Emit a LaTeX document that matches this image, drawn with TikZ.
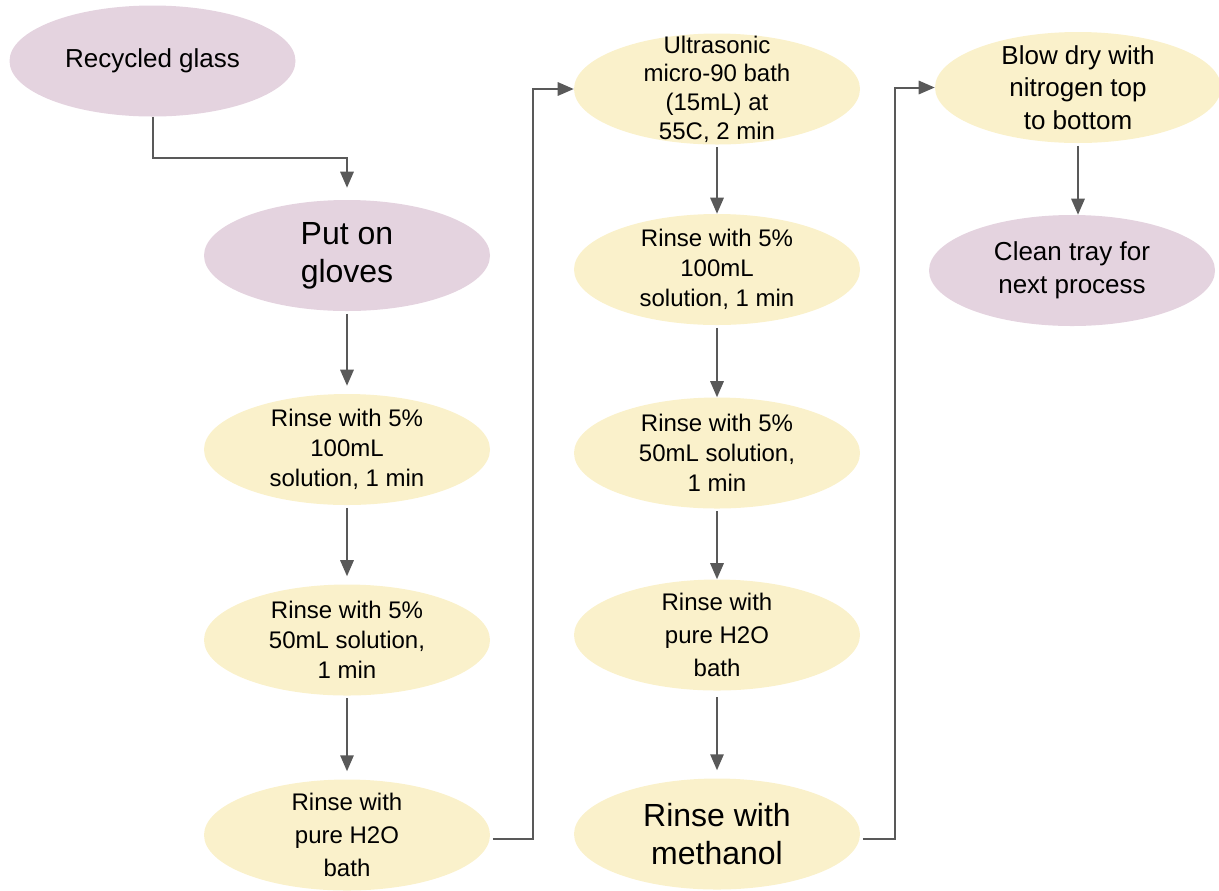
\documentclass[tikz,border=0pt]{standalone}
\usepackage{fontspec}
\setmainfont{Liberation Sans}
\usetikzlibrary{arrows.meta, shapes.geometric, calc}
\definecolor{lilac}{HTML}{E4D3DF}
\definecolor{cream}{HTML}{FAF1CB}
\definecolor{linegray}{HTML}{595959}

\begin{document}
\begin{tikzpicture}[x=0.75pt, y=-0.75pt, line join=miter,
  stage/.style={ellipse, minimum width=214.5pt, minimum height=83.25pt, inner xsep=0pt, inner ysep=-20pt, align=center, font=\fontsize{18}{22.5}\selectfont},
  widestage/.style={stage, font=\fontsize{19.5}{24.5}\selectfont},
  bigstage/.style={stage, font=\fontsize{24}{28.5}\selectfont},
  flow/.style={draw=linegray, line width=1.5pt, -{Triangle[length=12pt,width=10pt]}, shorten <=2pt}]
\useasboundingbox (0,0) rectangle (1219,890);

% first column
\node [widestage, fill=lilac] (glass) at (152.5,61) {Recycled glass};
\node [bigstage, fill=lilac] (gloves) at (347,255.5) {Put on\\gloves};
\node [stage, fill=cream] (rinseA) at (347,449.5) {Rinse with 5\%\\100mL\\solution, 1 min};
\node [stage, fill=cream] (rinseB) at (347,640) {Rinse with 5\%\\50mL solution,\\1 min};
\node [stage, fill=cream, font=\fontsize{18}{24.5}\selectfont] (bathA) at (347,835) {Rinse with\\pure H2O\\bath};

% second column
\node [stage, fill=cream, font=\fontsize{18}{21.5}\selectfont] (ultra) at (717,89) {Ultrasonic\\micro-90 bath\\(15mL) at\\55C, 2 min};
\node [stage, fill=cream] (rinseC) at (717,269.5) {Rinse with 5\%\\100mL\\solution, 1 min};
\node [stage, fill=cream] (rinseD) at (717,453) {Rinse with 5\%\\50mL solution,\\1 min};
\node [stage, fill=cream, font=\fontsize{18}{24.5}\selectfont] (bathB) at (717,635) {Rinse with\\pure H2O\\bath};
\node [bigstage, fill=cream] (meth) at (717,834) {Rinse with\\methanol};

% third column
\node [widestage, fill=cream] (blow) at (1078,87.5) {Blow dry with\\nitrogen top\\to bottom};
\node [widestage, fill=lilac] (tray) at (1072,270.5) {Clean tray for\\next process};

% arrows
\draw [flow, shorten <=0pt, shorten >=9pt] (glass.south) -- ++(0,41.5) -| (gloves.north);
\draw [flow, shorten >=6pt] (gloves) -- (rinseA);
\draw [flow, shorten >=6pt] (rinseA) -- (rinseB);
\draw [flow, shorten >=6pt] (rinseB) -- (bathA);

\draw [flow] ([yshift=-3pt]bathA.east) -- ++(43,0) |- (ultra.west);

\draw [flow] (ultra) -- (rinseC);
\draw [flow] (rinseC) -- (rinseD);
\draw [flow] (rinseD) -- (bathB);
\draw [flow, shorten <=5pt, shorten >=6pt] (bathB) -- (meth);

\draw [flow] ([yshift=-3.5pt]meth.east) -- ++(35,0) |- (blow.west);

\draw [flow] (blow.south) -- (blow.south |- tray.north);

\end{tikzpicture}
\end{document}
